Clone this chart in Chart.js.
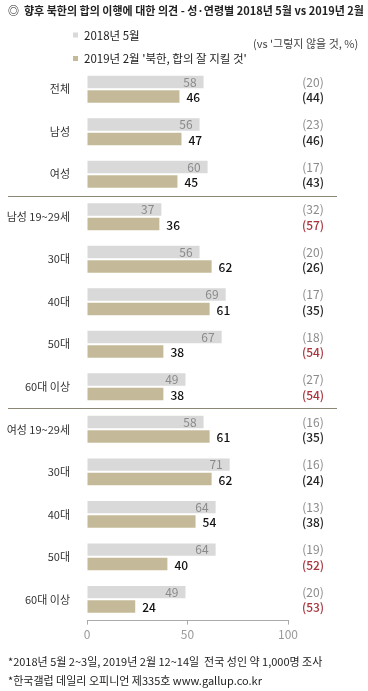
<!DOCTYPE html>
<html>
<head>
<meta charset="utf-8">
<script src="https://cdn.jsdelivr.net/npm/chart.js@4"></script>
<style>
  html, body { margin: 0; padding: 0; background: #fff; }
  #wrap { width: 368px; height: 691px; }
</style>
</head>
<body>
<div id="wrap"><canvas id="chart" width="368" height="691"></canvas></div>
<script>
// 데이터
var categories = ["전체", "남성", "여성", "남성 19~29세", "30대", "40대", "50대", "60대 이상",
  "여성 19~29세", "30대", "40대", "50대", "60대 이상"];
var may2018 = [58, 56, 60, 37, 56, 69, 67, 49, 58, 71, 64, 64, 49];
var feb2019 = [46, 47, 45, 36, 62, 61, 38, 38, 61, 62, 54, 40, 24];
// 그렇지 않을 것 (오른쪽 괄호 값)
var notMay2018 = [20, 23, 17, 32, 20, 17, 18, 27, 16, 16, 13, 19, 20];
var notFeb2019 = [44, 46, 43, 57, 26, 35, 54, 54, 35, 24, 38, 52, 53];
var xTicks = [0, 50, 100];

var titleText = "◎  향후 북한의 합의 이행에 대한 의견 - 성·연령별 2018년 5월 vs 2019년 2월";
var noteText = "(vs '그렇지 않을 것, %)";
var footLines = [
  "*2018년 5월 2~3일, 2019년 2월 12~14일  전국 성인 약 1,000명 조사",
  "*한국갤럽 데일리 오피니언 제335호 www.gallup.co.kr"
];
var separatorsAfter = [2, 7];

var FONT = "'Noto Sans CJK KR', 'Noto Sans', sans-serif";
var GRAY = "#d9d9d9";
var TAN = "#c4ba99";

/**
 * 제목, 범례, 값 라벨, 구분선, 각주를 그리는 플러그인
 */
var extras = {
  id: "extras",
  afterDatasetsDraw: function (chart) {
    var ctx = chart.ctx;
    var yScale = chart.scales.y;
    var m0 = chart.getDatasetMeta(0);
    var m1 = chart.getDatasetMeta(1);
    ctx.save();
    ctx.textBaseline = "middle";

    // 막대 값
    ctx.font = "12px " + FONT;
    m0.data.forEach(function (bar, i) {
      ctx.fillStyle = "#8a8a8a";
      ctx.textAlign = "right";
      ctx.fillText(may2018[i], bar.x - 7, bar.y);
    });
    ctx.font = "500 12px " + FONT;
    m1.data.forEach(function (bar, i) {
      ctx.fillStyle = "#111";
      ctx.textAlign = "left";
      ctx.fillText(feb2019[i], bar.x + 7, bar.y + 1);
    });

    // 오른쪽 괄호 값
    ctx.textAlign = "center";
    m0.data.forEach(function (bar, i) {
      ctx.font = "12px " + FONT;
      ctx.fillStyle = "#8a8a8a";
      ctx.fillText("(" + notMay2018[i] + ")", 313, bar.y);
      ctx.font = "500 12px " + FONT;
      ctx.fillStyle = notFeb2019[i] >= 50 ? "#a8343c" : "#222";
      ctx.fillText("(" + notFeb2019[i] + ")", 313, m1.data[i].y + 1);
    });

    // 구분선
    ctx.strokeStyle = "#8c8674";
    ctx.lineWidth = 1;
    separatorsAfter.forEach(function (idx) {
      var y = Math.round((yScale.getPixelForValue(idx) + yScale.getPixelForValue(idx + 1)) / 2) + 0.5;
      ctx.beginPath();
      ctx.moveTo(8, y);
      ctx.lineTo(337, y);
      ctx.stroke();
    });

    // 제목
    ctx.textAlign = "left";
    ctx.fillStyle = "#222";
    ctx.font = "bold 11px " + FONT;
    ctx.fillText(titleText, 8, 11);

    // 범례
    var ds = chart.data.datasets;
    [35.5, 59].forEach(function (y, k) {
      ctx.fillStyle = ds[k].backgroundColor;
      ctx.fillRect(73, y - 3, 5, 5);
      ctx.fillStyle = "#222";
      ctx.font = "11.5px " + FONT;
      ctx.fillText(ds[k].label, 84, y);
    });
    ctx.font = "11px " + FONT;
    ctx.fillStyle = "#444";
    ctx.fillText(noteText, 253, 44);

    // 각주
    ctx.font = "11px " + FONT;
    ctx.fillStyle = "#222";
    ctx.fillText(footLines[0], 8, 662);
    ctx.fillText(footLines[1], 8, 681);
    ctx.restore();
  }
};

document.addEventListener("DOMContentLoaded", function () {
  var ctx = document.getElementById("chart").getContext("2d");

  new Chart(ctx, {
    type: "bar",
    data: {
      labels: categories,
      datasets: [
        {
          label: "2018년 5월",
          data: may2018,
          backgroundColor: GRAY,
          categoryPercentage: 0.68,
          barPercentage: 0.86,
        },
        {
          label: "2019년 2월 '북한, 합의 잘 지킬 것'",
          data: feb2019,
          backgroundColor: TAN,
          categoryPercentage: 0.68,
          barPercentage: 0.86,
        },
      ],
    },
    options: {
      indexAxis: "y",
      responsive: false,
      animation: false,
      layout: {
        padding: { top: 68, left: 0, right: 80, bottom: 46 },
      },
      scales: {
        x: {
          min: 0,
          max: 100,
          afterBuildTicks: function (axis) {
            axis.ticks = xTicks.map(function (v) { return { value: v }; });
          },
          grid: {
            drawOnChartArea: false,
            drawTicks: true,
            tickLength: 4,
            color: "#aaa",
          },
          border: { color: "#aaa" },
          ticks: {
            color: "#999",
            font: { family: FONT, size: 12 },
            padding: 3,
          },
        },
        y: {
          afterFit: function (axis) {
            axis.width = 87;
          },
          grid: { display: false },
          border: { display: false },
          ticks: {
            color: "#333",
            font: { family: FONT, size: 11 },
            padding: 9,
          },
        },
      },
      plugins: {
        legend: { display: false },
        tooltip: { enabled: false },
      },
    },
    plugins: [extras],
  });
});
</script>
</body>
</html>
